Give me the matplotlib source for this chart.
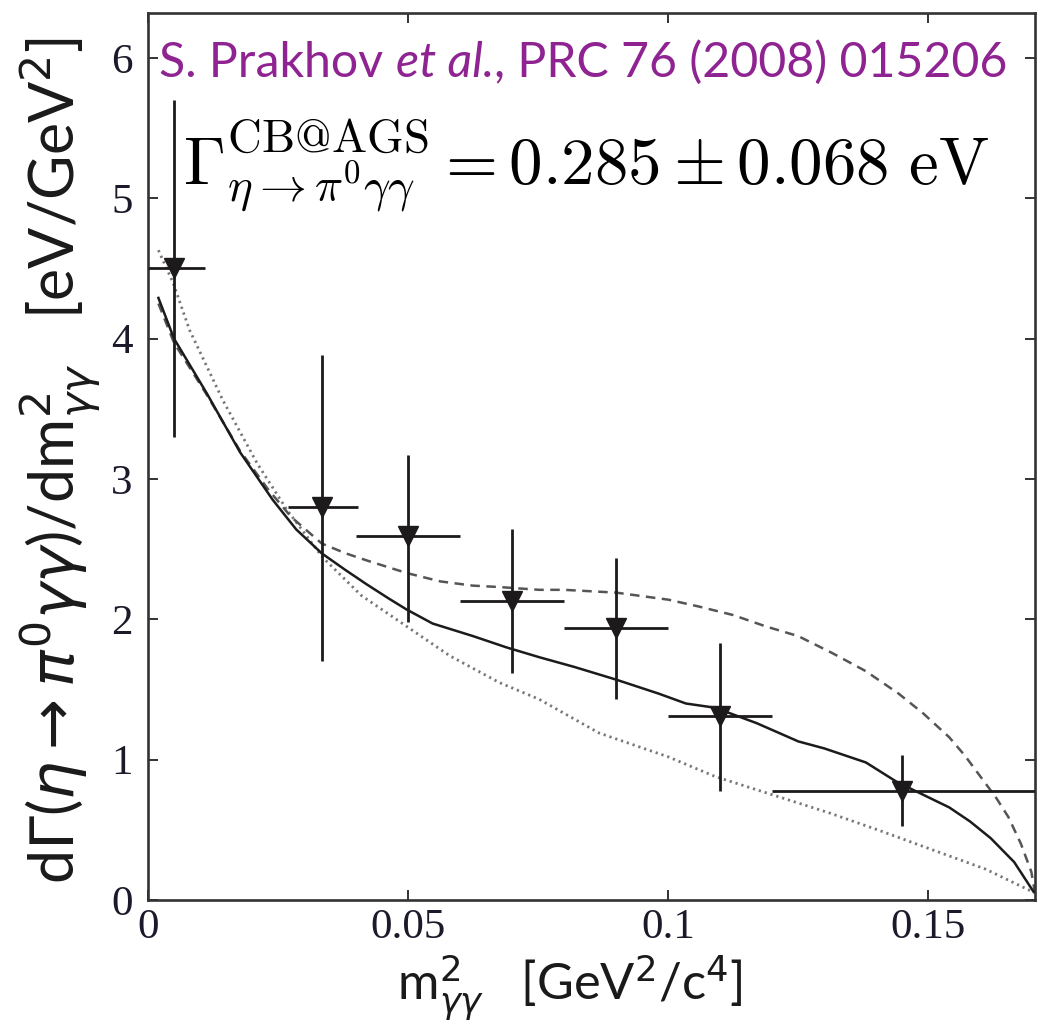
import matplotlib
matplotlib.use("Agg")
import matplotlib.pyplot as plt
import numpy as np

# Measured differential width, eta -> pi0 gamma gamma (Crystal Ball @ AGS)
m2_center = [0.005, 0.0335, 0.05, 0.07, 0.09, 0.11, 0.145]
m2_low = [0.0, 0.027, 0.04, 0.06, 0.08, 0.10, 0.12]
m2_high = [0.011, 0.0403, 0.06, 0.08, 0.10, 0.12, 0.1705]
rate = [4.50, 2.80, 2.59, 2.13, 1.94, 1.31, 0.78]
rate_low = [3.30, 1.70, 1.98, 1.62, 1.43, 0.78, 0.53]
rate_high = [5.70, 3.88, 3.17, 2.64, 2.44, 1.83, 1.03]

# Model curves
solid_x = [0.002, 0.005, 0.0113, 0.0177, 0.024, 0.0285, 0.0334, 0.038, 0.042,
           0.0462, 0.0497, 0.0547, 0.0625, 0.0689, 0.0752, 0.082, 0.09, 0.0982,
           0.1034, 0.109, 0.117, 0.125, 0.130, 0.138, 0.144, 0.149, 0.154,
           0.158, 0.162, 0.1665, 0.1702]
solid_y = [4.29, 4.00, 3.61, 3.19, 2.85, 2.64, 2.47, 2.35, 2.25,
           2.15, 2.07, 1.97, 1.88, 1.80, 1.73, 1.66, 1.57, 1.47,
           1.40, 1.37, 1.26, 1.13, 1.08, 0.98, 0.84, 0.75, 0.66,
           0.56, 0.44, 0.27, 0.06]

dash_x = [0.002, 0.005, 0.0113, 0.0177, 0.023, 0.0275, 0.0334, 0.038, 0.042,
          0.0497, 0.0562, 0.0624, 0.0675, 0.0752, 0.080, 0.09, 0.1, 0.106,
          0.1125, 0.1187, 0.125, 0.1315, 0.138, 0.1443, 0.149, 0.154, 0.157,
          0.160, 0.163, 0.1654, 0.1678, 0.1698, 0.1705]
dash_y = [4.25, 3.97, 3.60, 3.20, 2.93, 2.73, 2.54, 2.47, 2.42,
          2.33, 2.27, 2.24, 2.23, 2.21, 2.21, 2.19, 2.14, 2.09,
          2.03, 1.95, 1.88, 1.76, 1.63, 1.47, 1.33, 1.16, 1.03,
          0.88, 0.73, 0.59, 0.40, 0.20, 0.05]

dot_x = [0.002, 0.0048, 0.008, 0.0144, 0.021, 0.0267, 0.0336, 0.041, 0.0497,
         0.058, 0.0675, 0.0752, 0.0867, 0.1, 0.109, 0.12, 0.131, 0.141,
         0.1506, 0.161, 0.1705]
dot_y = [4.63, 4.40, 4.06, 3.56, 3.11, 2.78, 2.44, 2.17, 1.95,
         1.74, 1.55, 1.43, 1.19, 1.02, 0.88, 0.75, 0.62, 0.49,
         0.36, 0.22, 0.05]

x_ticks = [0, 0.05, 0.1, 0.15]
x_tick_labels = ["0", "0.05", "0.1", "0.15"]
y_ticks = [0, 1, 2, 3, 4, 5, 6]

W, H = 1055, 1027
fig = plt.figure(figsize=(W / 100, H / 100), dpi=100)
ax = fig.add_axes([148 / W, 1 - 900 / H, (1035 - 148) / W, (900 - 13) / H])

ink = "#1c1a1a"
ax.plot(dot_x, dot_y, color="#777777", lw=2.0, dashes=(0.8, 1.4), zorder=2)
ax.plot(dash_x, dash_y, color="#555555", lw=1.8, dashes=(3.8, 2.6), zorder=2)
ax.plot(solid_x, solid_y, color=ink, lw=1.8, zorder=3)

xc = np.array(m2_center)
yc = np.array(rate)
ax.errorbar(xc, yc,
            xerr=[xc - np.array(m2_low), np.array(m2_high) - xc],
            yerr=[yc - np.array(rate_low), np.array(rate_high) - yc],
            fmt="v", ms=14, color=ink, ecolor=ink, elinewidth=2.0,
            capsize=0, zorder=4)

ax.set_xlim(0, 0.1705)
ax.set_ylim(0, 6.32)
ax.set_xticks(x_ticks)
ax.set_xticklabels(x_tick_labels)
ax.set_yticks(y_ticks)
for s in ax.spines.values():
    s.set_linewidth(1.9)
    s.set_color("#333333")
ax.tick_params(direction="in", top=True, right=True, length=7, width=1.4,
               color="#333333", labelsize=31, labelcolor="#1a1a2a")
ax.tick_params(axis="x", pad=6)
ax.tick_params(axis="y", pad=11)
for lab in ax.get_xticklabels() + ax.get_yticklabels():
    lab.set_family("Liberation Serif")

renderer = fig.canvas.get_renderer()


def fit_width(t, target_px):
    bb = t.get_window_extent(renderer)
    t.set_fontsize(t.get_fontsize() * target_px / bb.width)


def fit_height(t, target_px):
    bb = t.get_window_extent(renderer)
    t.set_fontsize(t.get_fontsize() * target_px / bb.height)


# Citation line, set in three runs so "et al." can be italic
purple = "#8e2391"
cite_parts = [("S. Prakhov ", "normal"), ("et al.", "italic"),
              (", PRC 76 (2008) 015206", "normal")]
cite_size = 36.0
cite_y = 1 - 77 / H


def place_cite(size):
    texts = []
    x_px = 159.0
    for s, style in cite_parts:
        t = fig.text(x_px / W, cite_y, s, family="Lato", style=style,
                     color=purple, fontsize=size, ha="left", va="baseline")
        bb = t.get_window_extent(renderer)
        x_px += bb.width
        texts.append(t)
    return texts, x_px - 159.0


texts, width = place_cite(cite_size)
for t in texts:
    t.remove()
texts, width = place_cite(cite_size * 849 / width)

formula = fig.text(183 / W, 1 - 185 / H,
                   r"$\Gamma^{\mathrm{CB@AGS}}_{\eta\to\pi^0\gamma\gamma}"
                   r" = 0.285 \pm 0.068\ \mathrm{eV}$",
                   fontsize=44, color="black", ha="left", va="baseline",
                   math_fontfamily="cm")
fit_width(formula, 807)

ylab = fig.text(60 / W, 1 - 461 / H,
                r"d$\Gamma$($\eta\rightarrow\pi^0\gamma\gamma$)/dm$^2_{\gamma\gamma}$"
                r"   [eV/GeV$^2$]",
                family="Lato", fontsize=40, color="#1a1a1a", rotation=90,
                ha="center", va="center", math_fontfamily="dejavusans")
fit_height(ylab, 847)

xlab = fig.text(570 / W, 1 - 1000 / H,
                r"m$^2_{\gamma\gamma}$   [GeV$^2$/c$^4$]",
                family="Lato", fontsize=28, color="#1a1a1a",
                ha="center", va="baseline", math_fontfamily="dejavusans")
fit_width(xlab, 346)

fig.savefig("out.png", dpi=100)
